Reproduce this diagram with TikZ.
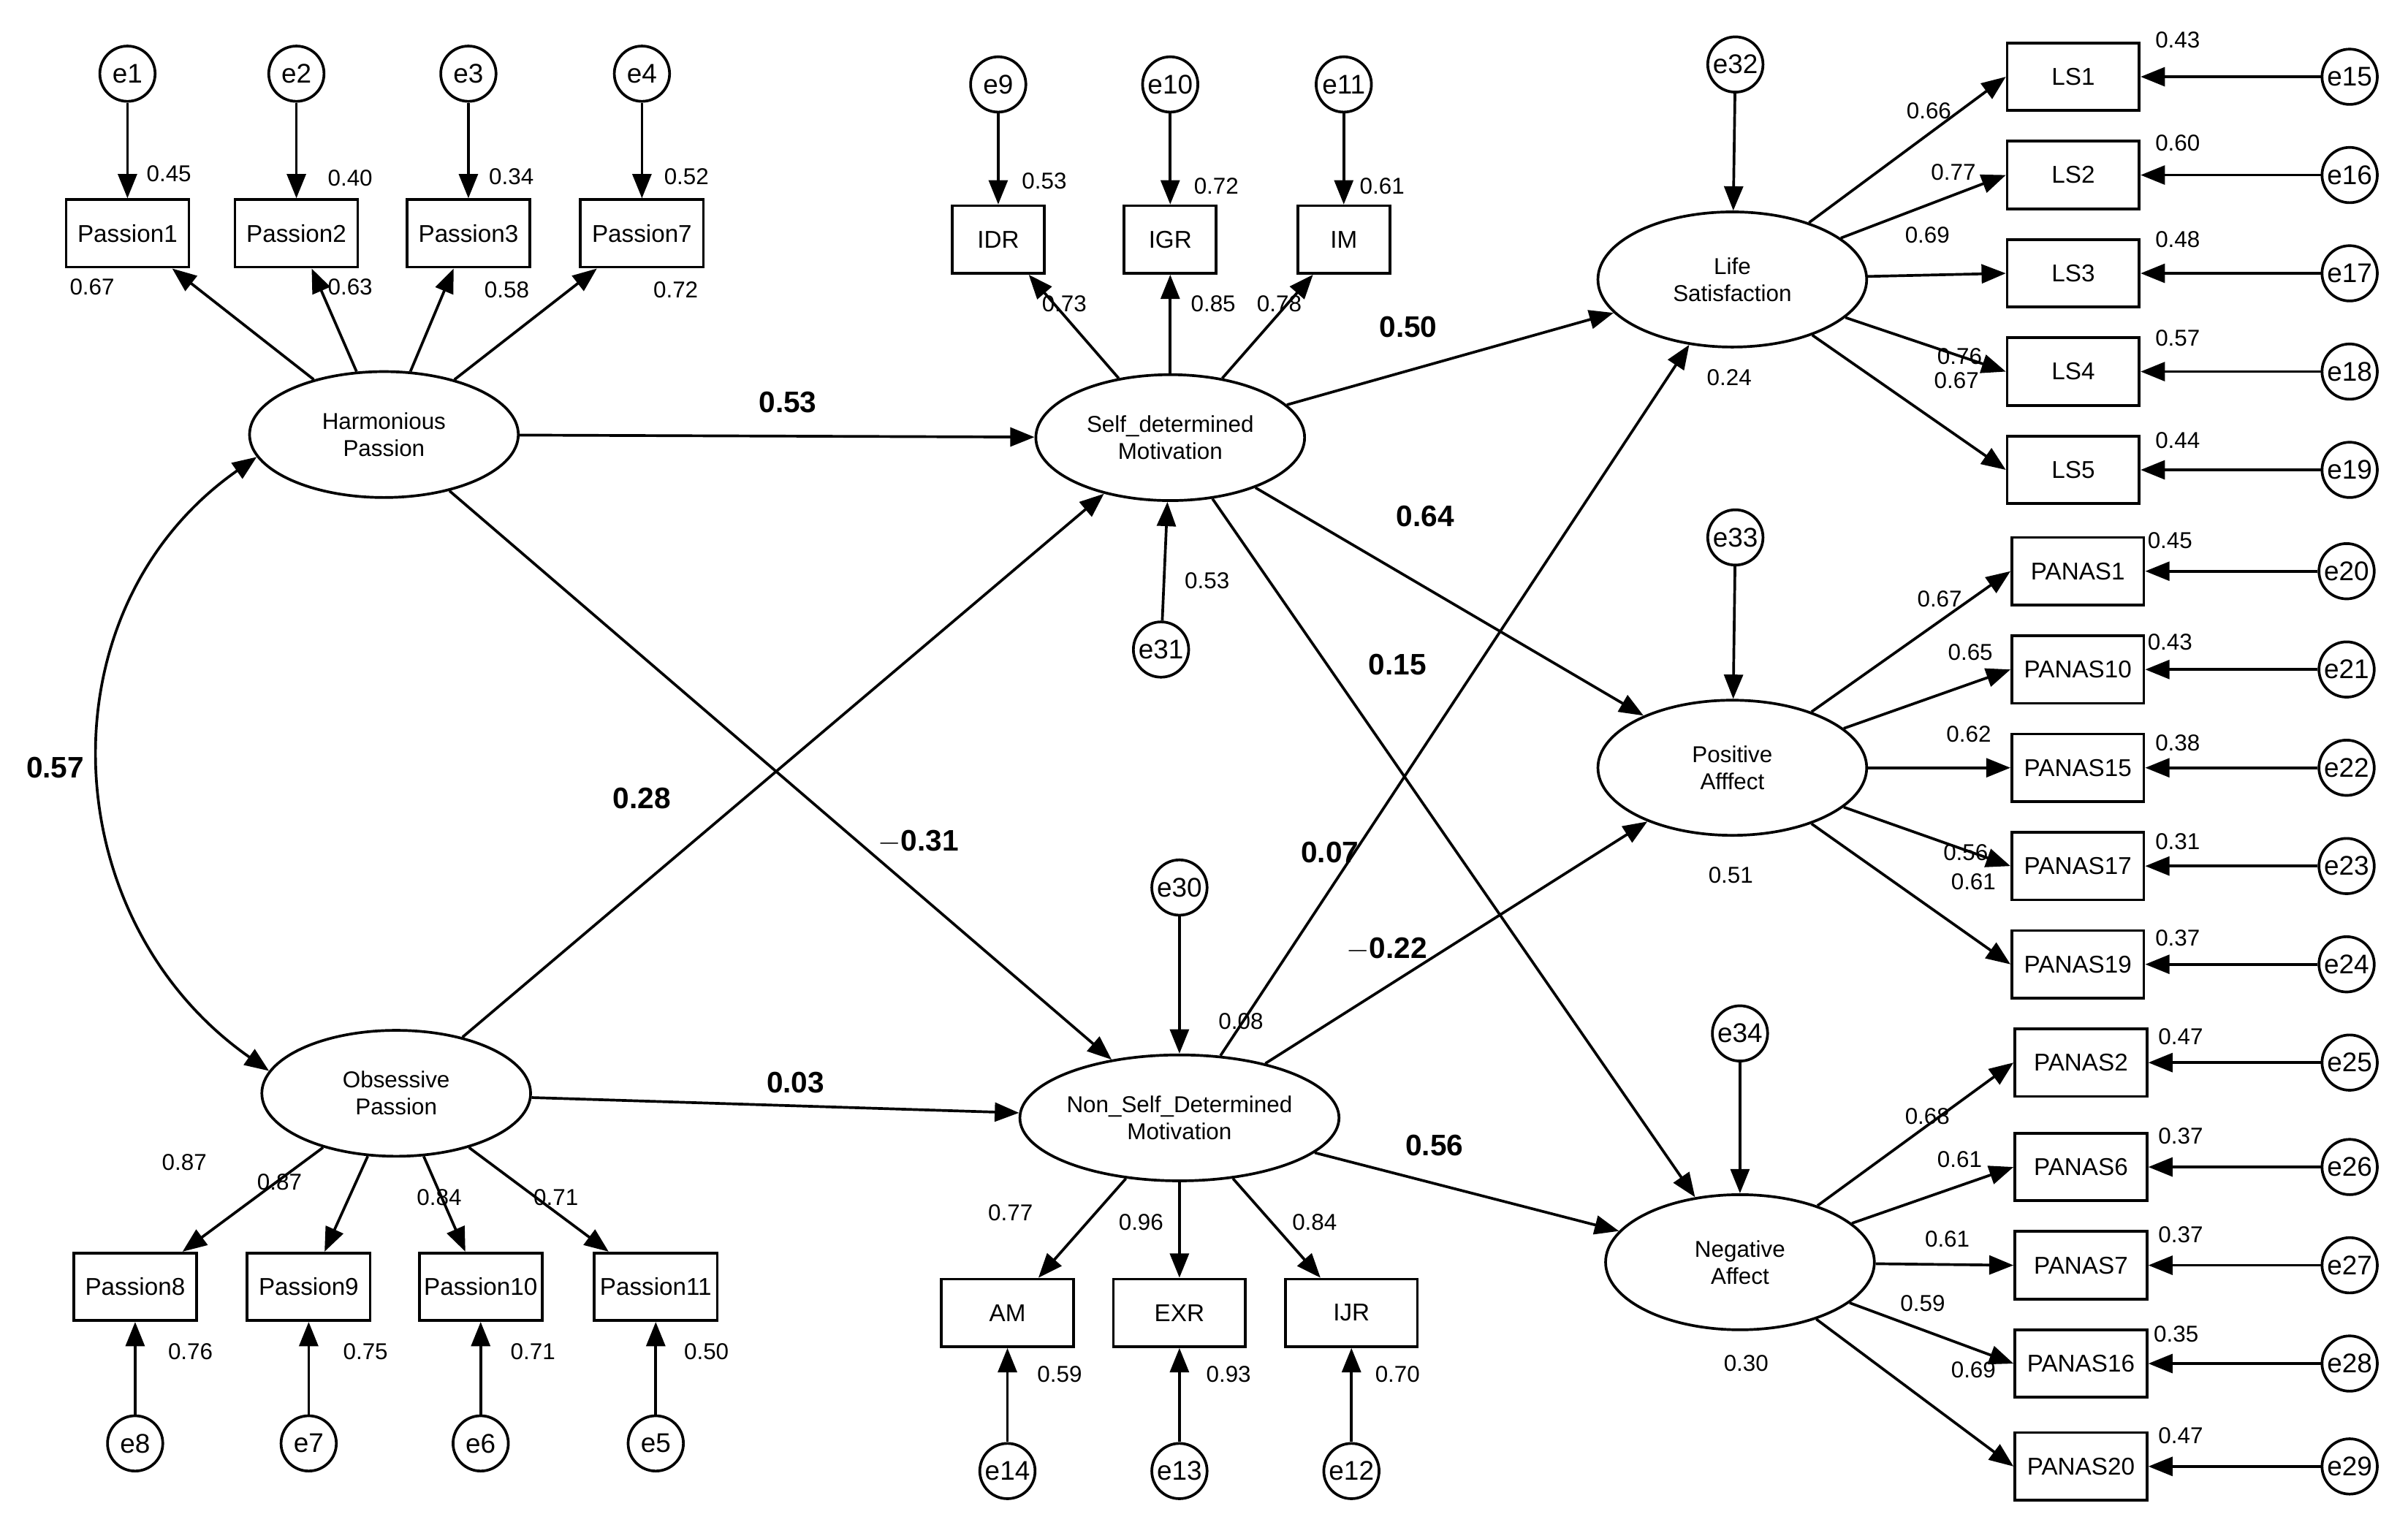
\documentclass[tikz,border=0pt]{standalone}
\usepackage{fontspec}
\setmainfont{Liberation Sans}
\usetikzlibrary{arrows.meta,shapes.geometric}
\begin{document}
\begin{tikzpicture}[x=0.02cm,y=-0.02cm,
 err/.style={circle,draw,line width=1pt,minimum size=36*0.02cm,inner sep=0pt,font=\fontsize{10}{12}\selectfont},
 box/.style={draw,line width=1pt,minimum width=#1*0.02cm,minimum height=44*0.02cm,inner sep=0pt,font=\fontsize{9}{11}\selectfont},
 box/.default=80,
 lat/.style={ellipse,draw,line width=1pt,minimum width=175*0.02cm,minimum height=82*0.02cm,inner sep=0pt,align=center,font=\fontsize{8.5}{10}\selectfont},
 ar/.style={line width=1pt,-{Triangle[length=9pt,width=7pt]}},
 n/.style={font=\fontsize{8.5}{10}\selectfont},
 b/.style={font=\fontsize{11}{13}\selectfont\bfseries}]
\useasboundingbox (0,0) rectangle (1568,993);
% Passion indicators
\foreach \nm/\x/\lab in {e1/83/Passion1,e2/193/Passion2,e3/305/Passion3,e4/418/Passion7}{
 \node[err] (\nm) at (\x,48) {\nm};
 \node[box] (\lab) at (\x,152) {\lab};
 \draw[ar] (\nm) -- (\lab);}
\node[lat] (HP) at (250,283) {Harmonious\\Passion};
\node[lat] (OP) at (258,712) {Obsessive\\Passion};
\foreach \lab in {Passion1,Passion2,Passion3,Passion7} \draw[ar] (HP) -- (\lab);
\foreach \nm/\x/\lab in {e8/88/Passion8,e7/201/Passion9,e6/313/Passion10,e5/427/Passion11}{
 \node[box] (\lab) at (\x,838) {\lab};
 \node[err] (\nm) at (\x,940) {\nm};
 \draw[ar] (\nm) -- (\lab);
 \draw[ar] (OP) -- (\lab);}
% SDM
\node[lat] (SDM) at (762,285) {Self\_determined\\Motivation};
\foreach \nm/\x/\lab in {e9/650/IDR,e10/762/IGR,e11/875/IM}{
 \node[err] (\nm) at (\x,55) {\nm};
 \node[box=60] (\lab) at (\x,156) {\lab};
 \draw[ar] (\nm) -- (\lab);
 \draw[ar] (SDM) -- (\lab);}
\node[err] (e31) at (756,423) {e31};
\draw[ar] (e31) -- (SDM);
% NSDM
\node[lat] (NSDM) at (768,728) {Non\_Self\_Determined\\Motivation};
\node[err] (e30) at (768,578) {e30};
\draw[ar] (e30) -- (NSDM);
\foreach \nm/\x/\lab in {e14/656/AM,e13/768/EXR,e12/880/IJR}{
 \node[box=86] (\lab) at (\x,855) {\lab};
 \node[err] (\nm) at (\x,958) {\nm};
 \draw[ar] (\nm) -- (\lab);
 \draw[ar] (NSDM) -- (\lab);}
% structural
\draw[ar] (HP) -- (SDM);
\draw[ar] (HP) -- (NSDM);
\draw[ar] (OP) -- (SDM);
\draw[ar] (OP) -- (NSDM);
\draw[line width=1pt,{Triangle[length=9pt,width=7pt]}-{Triangle[length=9pt,width=7pt]}] (HP.190) to[out=215,in=145,looseness=1.1] (OP.170);
% outcomes
\node[lat,minimum height=88*0.02cm] (LS) at (1128,182) {Life\\Satisfaction};
\node[lat,minimum height=88*0.02cm] (PA) at (1128,500) {Positive\\Afffect};
\node[lat,minimum height=88*0.02cm] (NA) at (1133,822) {Negative\\Affect};
\node[err] (e32) at (1130,42) {e32};
\node[err] (e33) at (1130,350) {e33};
\node[err] (e34) at (1133,673) {e34};
\draw[ar] (e32) -- (LS); \draw[ar] (e33) -- (PA); \draw[ar] (e34) -- (NA);
\foreach \t in {LS,PA,NA}{\draw[ar] (SDM) -- (\t); \draw[ar] (NSDM) -- (\t);}
% LS items
\foreach \lab/\y/\e in {LS1/50/e15,LS2/114/e16,LS3/178/e17,LS4/242/e18,LS5/306/e19}{
 \node[box=86] (\lab) at (1350,\y) {\lab};
 \node[err] (\e) at (1530,\y) {\e};
 \draw[ar] (\e) -- (\lab);
 \draw[ar] (LS) -- (\lab.west);}
\foreach \lab/\y/\e in {PANAS1/372/e20,PANAS10/436/e21,PANAS15/500/e22,PANAS17/564/e23,PANAS19/628/e24}{
 \node[box=86] (\lab) at (1353,\y) {\lab};
 \node[err] (\e) at (1528,\y) {\e};
 \draw[ar] (\e) -- (\lab);
 \draw[ar] (PA) -- (\lab.west);}
\foreach \lab/\y/\e in {PANAS2/692/e25,PANAS6/760/e26,PANAS7/824/e27,PANAS16/888/e28,PANAS20/955/e29}{
 \node[box=86] (\lab) at (1355,\y) {\lab};
 \node[err] (\e) at (1530,\y) {\e};
 \draw[ar] (\e) -- (\lab);
 \draw[ar] (NA) -- (\lab.west);}
% labels
\foreach \t/\x/\y in {0.45/110/113,0.40/228/116,0.34/333/115,0.52/447/115,0.67/60/187,0.63/228/187,0.58/330/189,0.72/440/189,
0.53/680/118,0.72/792/121,0.61/900/121,0.73/693/198,0.85/790/198,0.78/833/198,0.53/786/378,0.08/808/665,
0.77/658/790,0.96/743/796,0.84/856/796,0.59/690/895,0.93/800/895,0.70/910/895,
0.87/120/757,0.87/182/770,0.84/286/780,0.71/362/780,0.76/124/880,0.75/238/880,0.71/347/880,0.50/460/880,
0.24/1126/246,0.51/1127/570,0.30/1137/888,
0.66/1256/72,0.77/1272/112,0.69/1255/153,0.76/1276/232,0.67/1274/248,
0.43/1418/26,0.60/1418/93,0.48/1418/156,0.57/1418/220,0.44/1418/287,
0.67/1263/390,0.65/1283/425,0.62/1282/478,0.56/1280/555,0.61/1285/574,
0.45/1413/352,0.43/1413/418,0.38/1418/484,0.31/1418/548,0.37/1418/611,
0.68/1255/727,0.61/1276/755,0.61/1268/807,0.59/1252/849,0.69/1285/892,
0.47/1420/675,0.37/1420/740,0.37/1420/804,0.35/1417/869,0.47/1420/935}
 \node[n] at (\x,\y) {\t};
\foreach \t/\x/\y in {0.53/513/262,0.28/418/520,$-$0.31/598/548,0.03/518/705,0.57/36/500,0.50/917/213,0.64/928/336,0.15/910/433,0.07/866/555,$-$0.22/903/618,0.56/934/746}
 \node[b] at (\x,\y) {\t};
\end{tikzpicture}
\end{document}
